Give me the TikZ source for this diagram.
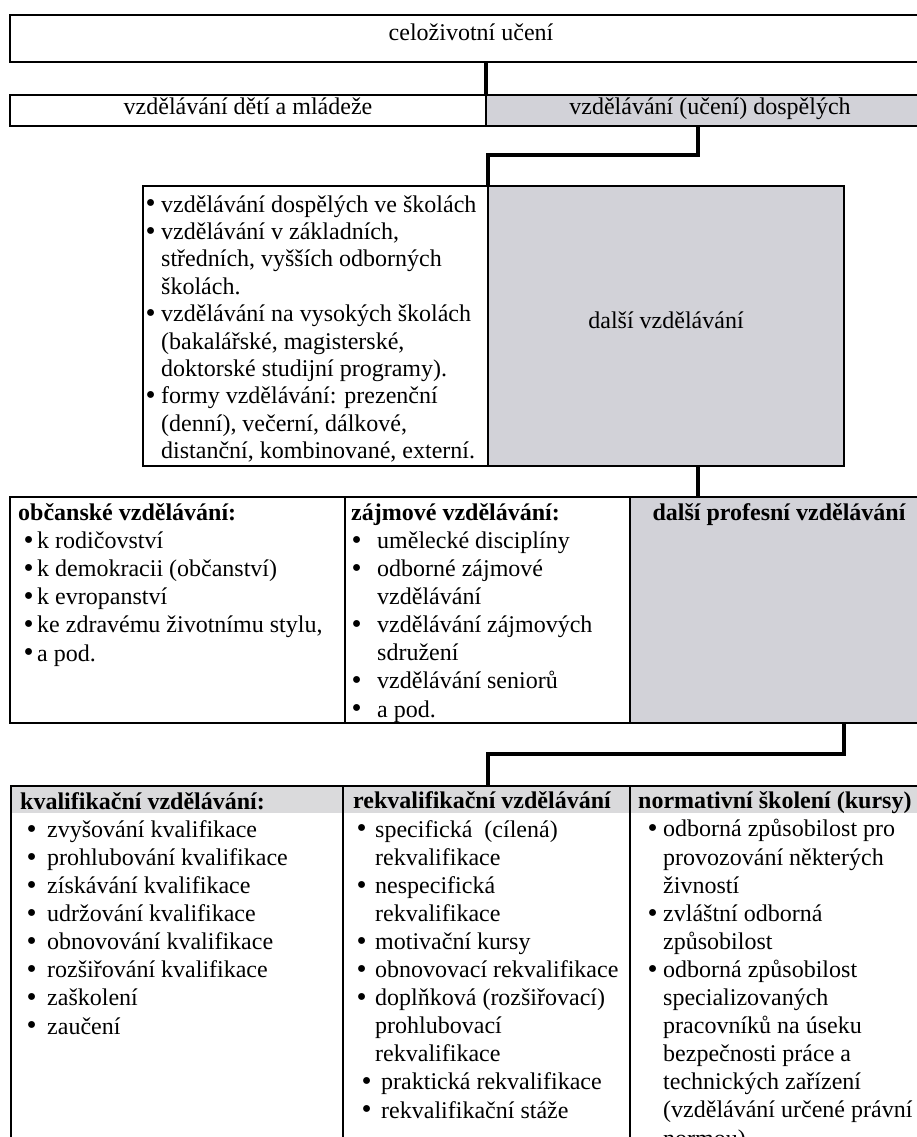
\documentclass[tikz,border=0pt]{standalone}
\usepackage{fontspec}
\usepackage{graphicx}
\setmainfont{Liberation Serif}
\usetikzlibrary{calc}
\definecolor{cellgray}{RGB}{210,210,216}
\definecolor{bandgray}{RGB}{218,218,220}
\newcommand\itm[2]{\hspace*{#1}\makebox[#2][l]{\hspace*{-1.5pt}\raisebox{-0.8pt}{\scalebox{1.2}{\textbullet}}}}
\newcommand\cnt[1]{\hspace*{#1}}
\begin{document}
\begin{tikzpicture}[x=1pt,y=-1pt,
  cell/.style={draw=black, line width=2.3pt, inner sep=0pt, outer sep=0pt, anchor=north west, rectangle},
  graycell/.style={cell, fill=cellgray},
  conn/.style={draw=black, line width=4pt, line join=miter},
  lbl/.style={inner sep=0pt, font=\fontsize{24}{28.1}\selectfont, anchor=base},
  lst/.style={inner sep=0pt, align=left, anchor=base west, font=\fontsize{24}{28.1}\selectfont},
]
\useasboundingbox (0,0) rectangle (917,1137);
\clip (0,0) rectangle (917,1137);
\fill[white] (0,0) rectangle (917,1137);

% cells
\node[cell, minimum width=920pt, minimum height=47pt] (top) at (10,15) {};
\node[cell, minimum width=476pt, minimum height=31pt] (r2L) at (10,95) {};
\node[graycell, minimum width=444pt, minimum height=31pt] (r2R) at (486,95) {};
\node[cell, minimum width=345pt, minimum height=280pt] (mL) at (143,186) {};
\node[graycell, minimum width=356pt, minimum height=280pt] (mR) at (488,186) {};
\node[cell, minimum width=335pt, minimum height=226pt] (r3a) at (10,497) {};
\node[cell, minimum width=285pt, minimum height=226pt] (r3b) at (345,497) {};
\node[graycell, minimum width=300pt, minimum height=226pt] (r3c) at (630,497) {};
\node[fill=bandgray, inner sep=0pt, outer sep=0pt, anchor=north west, minimum width=919pt, minimum height=27pt] (band) at (11,786) {};
\node[cell, minimum width=332pt, minimum height=400pt] (r4a) at (11,786) {};
\node[cell, minimum width=287pt, minimum height=400pt] (r4b) at (343,786) {};
\node[cell, minimum width=300pt, minimum height=400pt] (r4c) at (630,786) {};

% connectors
\coordinate (j1) at (698,155);
\coordinate (j2) at (844,754);
\draw[conn] (top.south -| r2L.east) -- (r2L.north east);
\draw[conn] (r2R.south -| j1) -- (j1) -- (j1 -| mR.west) -- (mR.north west);
\draw[conn] (mR.south -| j1) -- (r3c.north -| j1);
\draw[conn] (r3c.south -| mR.east) -- (j2) -- (j2 -| mR.west) -- (r4b.north -| mR.west);

% labels
\node[lbl] (t1) at (471,41) {celoživotní učení};
\node[lbl] (t2) at (248,115) {vzdělávání dětí a mládeže};
\node[lbl] (t3) at (710,115) {vzdělávání (učení) dospělých};
\node[lbl] (t4) at (666,328) {další vzdělávání};
\node[lbl, font=\fontsize{24}{28.1}\selectfont\bfseries] (t5) at (779,520) {další profesní vzdělávání};

% lists (anchor = baseline of the last line)
\node[lst, font=\fontsize{24}{27.4}\selectfont] (mlist) at (147,458.6) {%
\itm{0pt}{14pt}vzdělávání dospělých ve školách\\
\itm{0pt}{14pt}vzdělávání v základních,\\
\cnt{14pt}středních, vyšších odborných\\
\cnt{14pt}školách.\\
\itm{0pt}{14pt}vzdělávání na vysokých školách\\
\cnt{14pt}(bakalářské, magisterské,\\
\cnt{14pt}doktorské studijní programy).\\
\itm{0pt}{14pt}formy vzdělávání: prezenční\\
\cnt{14pt}(denní), večerní, dálkové,\\
\cnt{14pt}distanční, kombinované, externí.};

\node[lst] (l3a) at (18,661) {%
\textbf{občanské vzdělávání:}\\
\itm{7pt}{12pt}k rodičovství\\
\itm{7pt}{12pt}k demokracii (občanství)\\
\itm{7pt}{12pt}k evropanství\\
\itm{7pt}{12pt}ke zdravému životnímu stylu,\\
\itm{7pt}{12pt}a pod.};

\node[lst] (l3b) at (351,717) {%
\textbf{zájmové vzdělávání:}\\
\itm{2pt}{24pt}umělecké disciplíny\\
\itm{2pt}{24pt}odborné zájmové\\
\cnt{26pt}vzdělávání\\
\itm{2pt}{24pt}vzdělávání zájmových\\
\cnt{26pt}sdružení\\
\itm{2pt}{24pt}vzdělávání seniorů\\
\itm{2pt}{24pt}a pod.};

\node[lst] (l4a) at (20,1034) {%
\textbf{kvalifikační vzdělávání:}\\
\itm{8pt}{19pt}zvyšování kvalifikace\\
\itm{8pt}{19pt}prohlubování kvalifikace\\
\itm{8pt}{19pt}získávání kvalifikace\\
\itm{8pt}{19pt}udržování kvalifikace\\
\itm{8pt}{19pt}obnovování kvalifikace\\
\itm{8pt}{19pt}rozšiřování kvalifikace\\
\itm{8pt}{19pt}zaškolení\\
\itm{8pt}{19pt}zaučení};

\node[lst] (l4b) at (353,1118) {%
\textbf{rekvalifikační vzdělávání}\\
\itm{5pt}{17pt}specifická\ \ (cílená)\\
\cnt{22pt}rekvalifikace\\
\itm{5pt}{17pt}nespecifická\\
\cnt{22pt}rekvalifikace\\
\itm{5pt}{17pt}motivační kursy\\
\itm{5pt}{17pt}obnovovací rekvalifikace\\
\itm{5pt}{17pt}doplňková (rozšiřovací)\\
\cnt{22pt}prohlubovací\\
\cnt{22pt}rekvalifikace\\
\itm{10pt}{18pt}praktická rekvalifikace\\
\itm{10pt}{18pt}rekvalifikační stáže};

\node[lst] (l4c) at (638,1146) {%
\textbf{normativní školení (kursy)}\\
\itm{11pt}{14pt}odborná způsobilost pro\\
\cnt{25pt}provozování některých\\
\cnt{25pt}živností\\
\itm{11pt}{14pt}zvláštní odborná\\
\cnt{25pt}způsobilost\\
\itm{11pt}{14pt}odborná způsobilost\\
\cnt{25pt}specializovaných\\
\cnt{25pt}pracovníků na úseku\\
\cnt{25pt}bezpečnosti práce a\\
\cnt{25pt}technických zařízení\\
\cnt{25pt}(vzdělávání určené právní\\
\cnt{25pt}normou).};
\end{tikzpicture}
\end{document}
